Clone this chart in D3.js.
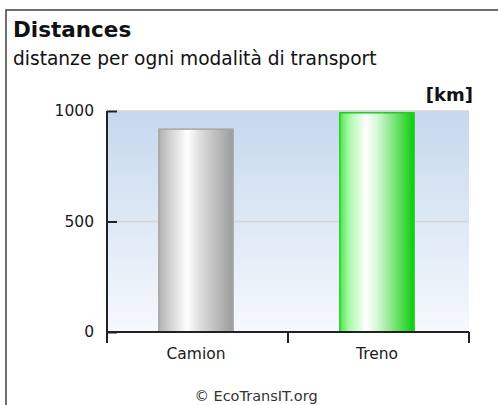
<!DOCTYPE html>
<html><head><meta charset="utf-8">
<script src="https://cdn.jsdelivr.net/npm/d3@7/dist/d3.min.js"></script>
<style>
html,body{margin:0;padding:0;background:#fff;overflow:hidden;}
text{font-family:"DejaVu Sans",sans-serif;}
</style></head>
<body>
<svg id="c" width="498" height="405"></svg>
<script>
const categories = ["Camion", "Treno"];
const values = [918, 992];
const yTicks = [0, 500, 1000];
const title = "Distances";
const subtitle = "distanze per ogni modalità di transport";
const unit = "[km]";
const credit = "© EcoTransIT.org";

(function(){
const svg = d3.select("#c");
const defs = svg.append("defs");

// frame
svg.append("rect").attr("x",6).attr("y",10).attr("width",540).attr("height",440)
  .attr("fill","#fff").attr("stroke","#4a4a4a").attr("stroke-width",1.6);

const pL = 107, pR = 469, pT = 111, pB = 332;
const y = d3.scaleLinear().domain([0,1000]).range([pB, pT]);
const x = d3.scaleBand().domain(categories).range([pL, pR]).padding(0);

// background gradient
const bg = defs.append("linearGradient").attr("id","bg").attr("x1",0).attr("y1",0).attr("x2",0).attr("y2",1);
bg.append("stop").attr("offset","0%").attr("stop-color","#c5d8ed");
bg.append("stop").attr("offset","100%").attr("stop-color","#f6f9fd");
svg.append("rect").attr("x",pL).attr("y",y(1000)).attr("width",pR-pL).attr("height",y(0)-y(1000)).attr("fill","url(#bg)");

// gridlines
svg.append("g").selectAll("line").data(yTicks.filter(d=>d>0)).join("line")
  .attr("x1",pL).attr("x2",pR).attr("y1",d=>y(d)).attr("y2",d=>y(d))
  .attr("stroke","#d6d6d6").attr("stroke-width",1.5);

// bar gradients
function grad(id, stops){
  const g = defs.append("linearGradient").attr("id",id).attr("x1",0).attr("y1",0).attr("x2",1).attr("y2",0);
  stops.forEach(s=>g.append("stop").attr("offset",s[0]).attr("stop-color",s[1]));
}
grad("gGray", [["0%","#b2b2b2"],["12%","#cbcbcb"],["38%","#ffffff"],["55%","#dedede"],["100%","#9c9c9c"]]);
grad("gGreen", [["0%","#4fe84f"],["12%","#a8f8a8"],["35%","#ffffff"],["50%","#d8f8d8"],["100%","#0ccc0c"]]);
const fills = ["url(#gGray)", "url(#gGreen)"];
const strokes = ["#a6a6a6", "#22cc22"];

const bw = x.bandwidth()*0.41;
svg.append("g").selectAll("rect").data(categories).join("rect")
  .attr("x",(d)=>x(d)+x.bandwidth()/2-bw/2-1.5)
  .attr("y",(d,i)=>y(values[i]))
  .attr("width",bw)
  .attr("height",(d,i)=>y(0)-y(values[i]))
  .attr("fill",(d,i)=>fills[i])
  .attr("stroke",(d,i)=>strokes[i]).attr("stroke-width",1.5);

// y axis
const ya = svg.append("g").attr("transform",`translate(${pL},0)`)
  .call(d3.axisLeft(y).tickValues(yTicks).tickSizeInner(-10).tickSizeOuter(0).tickPadding(13).tickFormat(d3.format("d")));
ya.select(".domain").remove();
ya.selectAll(".tick line").attr("stroke","#222").attr("stroke-width",2);
ya.selectAll(".tick text").attr("font-family","DejaVu Sans").attr("font-size",15.5).attr("fill","#1a1a1a");
svg.append("line").attr("x1",pL).attr("x2",pL).attr("y1",y(1000)).attr("y2",y(0)+11)
  .attr("stroke","#222").attr("stroke-width",2);

// x axis
const xa = svg.append("g").attr("transform",`translate(0,${pB})`)
  .call(d3.axisBottom(x).tickSize(0).tickPadding(16));
xa.select(".domain").remove();
xa.selectAll(".tick text").attr("font-family","DejaVu Sans").attr("font-size",15.5).attr("fill","#1a1a1a")
  .attr("dx",-1.5);
svg.append("line").attr("x1",pL).attr("x2",pR).attr("y1",pB).attr("y2",pB)
  .attr("stroke","#222").attr("stroke-width",2);
const bounds = [x.range()[0]].concat(categories.map(d=>x(d)+x.bandwidth()));
svg.append("g").selectAll("line").data(bounds).join("line")
  .attr("x1",d=>d).attr("x2",d=>d).attr("y1",pB).attr("y2",pB+11)
  .attr("stroke","#222").attr("stroke-width",2);

// texts
svg.append("text").attr("x",13).attr("y",37).attr("font-size",21.5).attr("font-weight","bold").attr("fill","#111").text(title);
svg.append("text").attr("x",13).attr("y",65).attr("font-size",18.6).attr("fill","#111").text(subtitle);
svg.append("text").attr("x",473).attr("y",101).attr("text-anchor","end").attr("font-size",18).attr("font-weight","bold").attr("fill","#111").text(unit);
svg.append("text").attr("x",256).attr("y",401).attr("text-anchor","middle").attr("font-size",14.5).attr("fill","#333").text(credit);
})();
</script>
</body></html>
